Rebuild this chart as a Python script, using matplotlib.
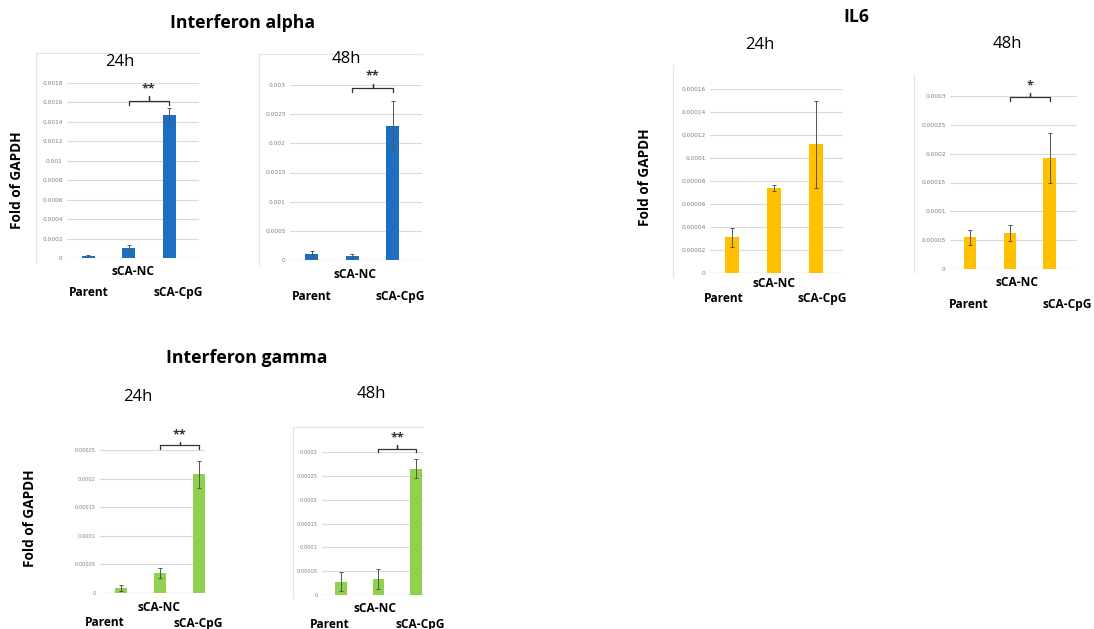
import matplotlib
matplotlib.use("Agg")
import matplotlib.pyplot as plt
from matplotlib.lines import Line2D
from matplotlib.transforms import ScaledTranslation

plt.rcParams['font.family'] = ['Open Sans', 'DejaVu Sans']

W, H = 1094, 629

categories = ["Parent", "sCA-NC", "sCA-CpG"]

# Data (fold of GAPDH)
ifna_24_vals = [0.000018, 0.000106, 0.001468]
ifna_24_err = [0.000012, 0.00003, 0.00008]
ifna_48_vals = [0.000103, 0.000069, 0.0023]
ifna_48_err = [0.00005, 0.00003, 0.00042]
il6_24_vals = [0.000031, 0.0000739, 0.000112]
il6_24_err = [0.000008, 0.0000025, 0.000038]
il6_48_vals = [0.0000547, 0.0000622, 0.000192]
il6_48_err = [0.000013, 0.000014, 0.000043]
ifng_24_vals = [0.0000087, 0.0000349, 0.0002076]
ifng_24_err = [0.000005, 0.0000087, 0.000024]
ifng_48_vals = [0.0000279, 0.0000335, 0.000265]
ifng_48_err = [0.00002, 0.00002, 0.00002]

ifna_24_ticks = ["0", "0.0002", "0.0004", "0.0006", "0.0008", "0.001", "0.0012", "0.0014", "0.0016", "0.0018"]
ifna_48_ticks = ["0", "0.0005", "0.001", "0.0015", "0.002", "0.0025", "0.003"]
il6_24_ticks = ["0", "0.00002", "0.00004", "0.00006", "0.00008", "0.0001", "0.00012", "0.00014", "0.00016"]
il6_48_ticks = ["0", "0.00005", "0.0001", "0.00015", "0.0002", "0.00025", "0.0003"]
ifng_24_ticks = ["0", "0.00005", "0.0001", "0.00015", "0.0002", "0.00025"]
ifng_48_ticks = ["0", "0.00005", "0.0001", "0.00015", "0.0002", "0.00025", "0.0003"]

sig_labels = ["**", "**", "", "*", "**", "**"]
bracket_levels = [0.00162, 0.00295, None, 0.000298, 0.000258, 0.000307]

BLUE = "#1c6fc2"
YELLOW = "#ffc000"
GREEN = "#8fd14f"

fig = plt.figure(figsize=(W / 100, H / 100), dpi=100)


def fx(px):
    return px / W


def fy(py):
    return 1 - py / H


def make_panel(x0, x1, y_zero, y_top, xlim, ticks, vals, errs, color,
               sig, blevel, pads, dxs, tick_fs=4.2, bw=0.32):
    ax = fig.add_axes([fx(x0), fy(y_zero), fx(x1 - x0), (y_zero - y_top) / H])
    tick_vals = [float(t) for t in ticks]
    ax.set_ylim(0, tick_vals[-1])
    ax.set_xlim(*xlim)
    x = list(range(len(categories)))
    ax.bar(x, vals, width=bw, color=color, zorder=3)
    ax.errorbar(x, vals, yerr=errs, fmt="none", ecolor="#555555",
                elinewidth=0.7, capsize=1.6, capthick=0.7, zorder=4)
    ax.set_yticks(tick_vals)
    ax.set_yticklabels(ticks, fontsize=tick_fs, color="#7f7f7f",
                       family="DejaVu Sans")
    ax.tick_params(axis="y", length=0, pad=3)
    ax.grid(axis="y", color="#dadada", linewidth=0.8, zorder=0)
    for s in ax.spines.values():
        s.set_visible(False)
    ax.axhline(0, color="#d0d0d0", linewidth=0.9, zorder=2)
    ax.set_xticks(x)
    ax.set_xticklabels(categories, fontsize=8.6, fontweight="bold")
    ax.tick_params(axis="x", length=0)
    for tk, p in zip(ax.xaxis.get_major_ticks(), pads):
        tk.set_pad(p)
    for lab, dx in zip(ax.get_xticklabels(), dxs):
        lab.set_transform(lab.get_transform() +
                          ScaledTranslation(dx / 100, 0, fig.dpi_scale_trans))
    if blevel is not None:
        xa, xb = x[1], x[2]
        xm = (xa + xb) / 2
        d = tick_vals[-1] * 0.025
        ax.plot([xa, xa, xm, xm, xm, xb, xb],
                [blevel - d, blevel, blevel, blevel + d, blevel, blevel, blevel - d],
                color="#333333", linewidth=0.9, clip_on=False, zorder=5)
        ax.text(xm, blevel + d * 1.2, sig, ha="center", va="bottom",
                fontsize=9, fontweight="bold", color="#333333", clip_on=False)
    return ax


def frame(left, top, right, bottom, show_top=True):
    c = "#e3e3e3"
    if show_top:
        fig.add_artist(Line2D([fx(left), fx(right)], [fy(top), fy(top)],
                              color=c, linewidth=0.9))
    fig.add_artist(Line2D([fx(left), fx(left)], [fy(top), fy(bottom)],
                          color=c, linewidth=0.9))


# frames (chart-area borders)
frame(36, 53, 199, 262)
frame(259, 54, 422, 264)
frame(673, 65, 843, 277, show_top=False)
frame(914, 75, 1077, 272, show_top=False)
frame(293, 427, 423, 598)

make_panel(67, 199, 258, 83, (-0.52, 2.74), ifna_24_ticks, ifna_24_vals,
           ifna_24_err, BLUE, sig_labels[0], bracket_levels[0],
           pads=(20, 5, 20), dxs=(1, 4, 9))
make_panel(290, 422, 260, 85, (-0.54, 2.72), ifna_48_ticks, ifna_48_vals,
           ifna_48_err, BLUE, sig_labels[1], bracket_levels[1],
           pads=(21.5, 6, 21.5), dxs=(0, 3, 7))
make_panel(710, 843, 273, 89, (-0.52, 2.64), il6_24_ticks, il6_24_vals,
           il6_24_err, YELLOW, sig_labels[2], bracket_levels[2],
           pads=(14, 3, 14), dxs=(-8, 0, 6))
make_panel(950, 1077, 269, 96, (-0.5, 2.68), il6_48_ticks, il6_48_vals,
           il6_48_err, YELLOW, sig_labels[3], bracket_levels[3],
           pads=(21, 5, 21), dxs=(-1, 7, 17))
make_panel(100, 205, 593, 450, (-0.54, 2.15), ifng_24_ticks, ifng_24_vals,
           ifng_24_err, GREEN, sig_labels[4], bracket_levels[4],
           pads=(16.5, 5.5, 17.5), dxs=(-16, -1, -1), tick_fs=3.6)
make_panel(322, 423, 595, 452, (-0.51, 2.19), ifng_48_ticks, ifng_48_vals,
           ifng_48_err, GREEN, sig_labels[5], bracket_levels[5],
           pads=(16.5, 5, 16.5), dxs=(-11, -3, 4), tick_fs=3.6)

# Titles
title_kw = dict(ha="center", va="center", fontsize=12.7, fontweight="bold")
fig.text(fx(243), fy(23), "Interferon alpha", **title_kw)
fig.text(fx(856), fy(17), "IL6", **title_kw)
fig.text(fx(247), fy(358), "Interferon gamma", **title_kw)

sub_kw = dict(ha="center", va="center", fontsize=12)
fig.text(fx(120), fy(62), "24h", **sub_kw)
fig.text(fx(346), fy(59), "48h", **sub_kw)
fig.text(fx(760), fy(45), "24h", **sub_kw)
fig.text(fx(1007), fy(44), "48h", **sub_kw)
fig.text(fx(138), fy(397), "24h", **sub_kw)
fig.text(fx(371), fy(394), "48h", **sub_kw)

ylab_kw = dict(ha="center", va="center", fontsize=9.8, fontweight="bold",
               rotation=90)
fig.text(fx(17), fy(180), "Fold of GAPDH", **ylab_kw)
fig.text(fx(645), fy(177), "Fold of GAPDH", **ylab_kw)
fig.text(fx(30), fy(518), "Fold of GAPDH", **ylab_kw)

fig.savefig("out.png", dpi=100)
